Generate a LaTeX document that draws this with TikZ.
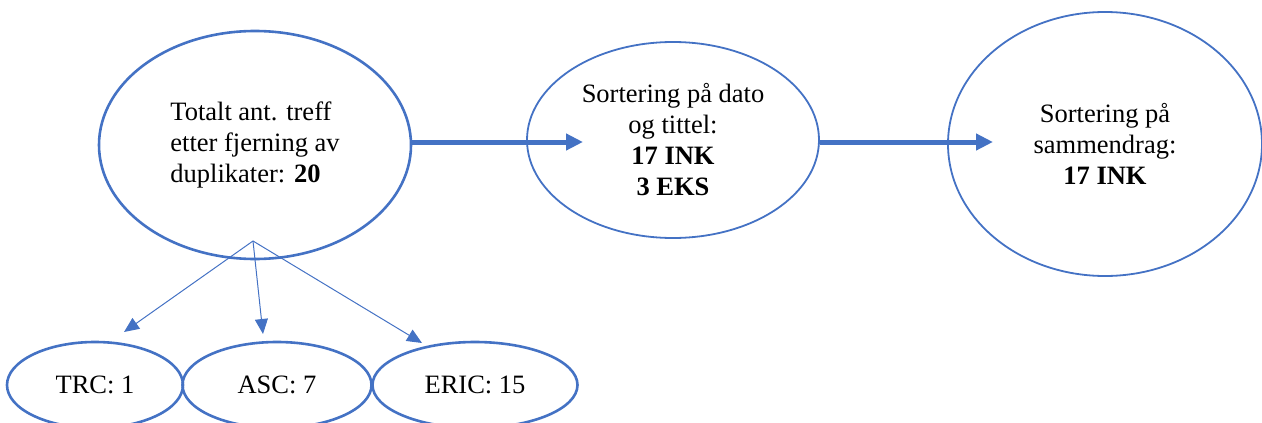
\documentclass[tikz,border=0pt]{standalone}
\usepackage{fontspec}
\setmainfont{Liberation Serif}
\usetikzlibrary{shapes.geometric,arrows.meta}
\definecolor{wordblue}{HTML}{4472C4}
\tikzset{
  oval/.style={ellipse, draw=wordblue, inner sep=0pt, text=black,
    font=\fontsize{26.5}{31}\selectfont},
  thickoval/.style={oval, line width=2.6pt},
  thinoval/.style={oval, line width=1.8pt},
  flow/.style={draw=wordblue, line width=5pt,
    -{Triangle[length=17pt,width=16pt]}},
  branch/.style={draw=wordblue, line width=1pt,
    -{Triangle[length=15pt,width=13pt]}},
}
\begin{document}
\begin{tikzpicture}[x=1pt,y=-1pt]
  \useasboundingbox (0,0) rectangle (1262,423);

  % main chain
  \node[thickoval, minimum width=312pt, minimum height=228pt, align=left]
    (total) at (255,145)
    {Totalt ant. treff\\etter fjerning av\\duplikater: \textbf{20}};
  \node[thinoval, minimum width=292pt, minimum height=196pt, align=center]
    (dato) at (673,140)
    {Sortering på dato\\og tittel:\\\textbf{17 INK}\\\textbf{3 EKS}};
  \node[thinoval, minimum width=314pt, minimum height=264pt, align=center]
    (samm) at (1105,144)
    {Sortering på\\sammendrag:\\\textbf{17 INK}};

  % databases
  \node[thickoval, minimum width=176pt, minimum height=86pt] (trc)  at (95,385)  {TRC: 1};
  \node[thickoval, minimum width=189pt, minimum height=86pt] (asc)  at (277,385) {ASC: 7};
  \node[thickoval, minimum width=205pt, minimum height=86pt] (eric) at (475,385) {ERIC: 15};

  % arrow ends
  \coordinate (tipdato) at (583,142);
  \coordinate (tipsamm) at (993,142);
  \coordinate (split)   at (253,241);
  \coordinate (tiptrc)  at (124,332);
  \coordinate (tipasc)  at (263,334);
  \coordinate (tiperic) at (422,343);

  \draw[flow] (total.east |- tipdato) -- (tipdato);
  \draw[flow] (dato.east |- tipsamm) -- (tipsamm);

  \draw[branch] (split) -- (tiptrc);
  \draw[branch] (split) -- (tipasc);
  \draw[branch] (split) -- (tiperic);
\end{tikzpicture}
\end{document}
